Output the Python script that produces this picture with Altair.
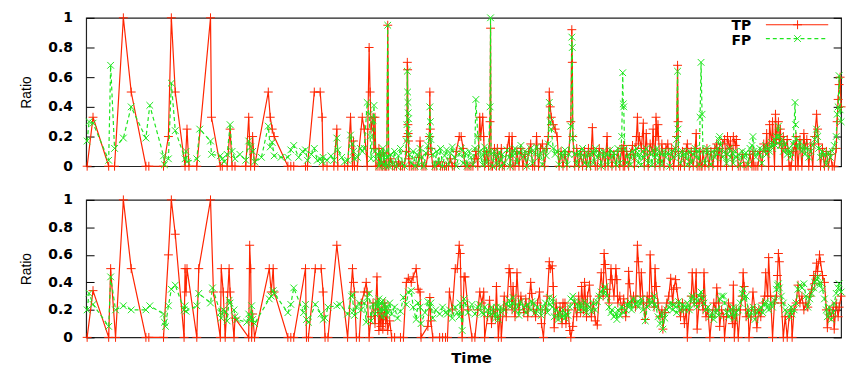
import altair as alt
import pandas as pd

N = None

# ---------------- top panel (time, TP ratio %, FP ratio %) ----------------
top_time = [
    87, 89, 93, 109, 111, 115, 124, 132, 147, 150,
    151, 165, 166, 170, 173, 177, 187, 188, 189, 191,
    199, 202, 213, 214, 223, 225, 227, 230, 233, 235,
    238, 243, 249, 252, 254, 256, 258, 265, 272, 274,
    276, 278, 285, 292, 295, 298, 303, 307, 310, 312,
    316, 319, 322, 325, 327, 328, 332, 336, 339, 342,
    343, 347, 350, 353, 356, 358, 359, 360, 363, 366,
    368, 370, 373, 375, 376, 377, 379, 380, 381, 382,
    384, 385, 386, 387, 388, 389, 390, 391, 392, 393,
    394, 395, 397, 399, 401, 403, 405, 407, 409, 411,
    413, 413.6, 414, 414.3, 414.6, 414.9, 415.2, 415.5, 416, 418,
    420, 422, 424, 426, 427, 429, 431, 433, 435, 436.5,
    437, 437.5, 438, 440, 442, 444, 446, 448, 450, 452,
    454, 456, 458, 460, 462, 464, 467, 469, 471, 473,
    475, 477, 479, 481, 483, 484, 486, 488, 489, 491,
    492, 493, 495, 497, 498.5, 499, 499.5, 501, 503, 505,
    506, 508, 510, 511, 513, 516, 518, 519, 521, 522,
    524, 526, 528, 530, 532, 534, 536, 538, 540, 542,
    544, 546, 548, 550, 552, 554, 556, 558, 559, 560,
    561, 563, 565, 567, 569, 571, 573, 575, 577, 579,
    581, 582, 582.5, 583, 585, 587, 589, 591, 593, 595,
    597, 599, 601, 603, 604, 606, 608, 610, 612, 614,
    616, 618, 619, 621, 623, 625, 627, 629, 631, 633,
    634, 634.5, 635, 636, 638, 640, 642, 644, 646, 648,
    649, 650, 651, 653, 655, 656, 658, 660, 662, 664,
    665, 667, 668, 669, 670, 672, 674, 676, 678, 680,
    682, 684, 686, 688, 689, 690, 690.5, 691, 693, 695,
    697, 699, 700, 702, 704, 706, 708, 709, 710, 712,
    713, 714, 715, 716, 718, 720, 722, 724, 726, 728,
    730, 731, 732, 733, 734, 736, 738, 740, 741, 743,
    744, 746, 747, 749, 750, 752, 754, 756, 758, 760,
    762, 764, 766, 767, 768, 770, 772, 774, 776, 778,
    780, 781, 783, 784, 786, 787, 789, 790, 791, 793,
    794, 795, 797, 798, 800, 802, 804, 805, 806, 808,
    810, 810.5, 811, 813, 815, 817, 819, 820, 822, 824,
    826, 828, 830, 832, 833, 834, 836, 838, 840, 842,
    844, 846, 848, 850, 852, 853, 854, 855, 856, 857,
]
top_tp = [
    0, N, 33, 0, N, 0, 100, 50, 0, 0,
    N, 0, N, 20, 100, 50, 0, N, 25, 0,
    0, N, 100, 33, 0, 0, N, 0, 25, 0,
    0, N, 0, 33, 0, 20, 0, N, 50, 33,
    25, 20, N, 0, 0, 0, N, N, 0, 0,
    N, 50, N, 50, 33, 0, 0, N, 0, 25,
    0, N, 0, 0, 33, 0, 17, 0, 0, N,
    33, 25, 0, 80, 50, 25, 33, 12, 33, 0,
    0, 12, 0, 8, 0, 0, 9, 0, 0, 0,
    95, 0, 5, 0, 0, 0, 3, 0, 0, 0,
    10, 20, 70, 65, 28, 22, 17, 5, 0, 0,
    0, 0, 0, 6, 17, 0, 0, 0, 8, 20,
    50, 25, 12, 0, 0, 0, 3, 0, 0, 0,
    0, 0, 5, 0, 0, 10, 20, 20, 12, 0,
    0, 0, 0, 0, 5, 10, 0, 33, 20, 33,
    20, 0, 10, 0, 30, 93, 0, 0, 12, 0,
    12, 0, 12, 0, 0, 12, 20, 0, 20, 0,
    0, 10, 0, 12, 0, 8, 0, 10, 15, 0,
    0, 20, 0, 12, 15, 0, 12, 20, 50, 40,
    33, 28, 25, 20, 0, 10, 0, 8, 0, 10,
    30, 92, 70, 20, 0, 12, 0, 8, 0, 10,
    0, 12, 0, 26, 10, 0, 0, 12, 0, 9,
    0, 20, 0, 10, 0, 8, 0, 10, 0, 12,
    10, 0, 14, 0, 10, 0, 8, 14, 0, 20,
    33, 15, 20, 12, 29, 0, 22, 0, 15, 10,
    25, 0, 33, 20, 28, 0, 15, 0, 12, 15,
    0, 12, 0, 10, 20, 68, 30, 0, 0, 10,
    0, 12, 15, 0, 10, 0, 12, 22, 0, 0,
    10, 0, 0, 10, 0, 12, 0, 10, 0, 12,
    15, 0, 10, 12, 0, 15, 18, 0, 20, 12,
    17, 0, 20, 14, 18, 0, 0, 8, 0, 0,
    0, 8, 0, 10, 0, 0, 0, 10, 0, 15,
    10, 22, 0, 28, 15, 30, 0, 35, 18, 30,
    15, 25, 0, 20, 12, 18, 0, 0, 0, 10,
    15, 0, 20, 0, 18, 0, 22, 12, 18, 0,
    15, 0, 20, 35, 25, 15, 0, 12, 0, 10,
    0, 8, 0, 0, 12, 30, 45, 55, 60, 40,
]
top_fp = [
    17, 30, 29, 4, 68, 12, 19, 40, 19, N,
    41, 7, 1, 5, 56, 24, 5, 10, 3, N,
    5, 25, 17, 8, 7, 5, 3, 8, 28, 10,
    5, 8, 4, 17, 13, 10, 3, 6, 27, 13,
    16, 7, 6, 6, 11, 14, 6, 10, 11, 4,
    8, 12, 4, 5, 3, 6, 4, 7, 4, 19,
    11, 6, 3, 4, 21, 15, 10, 5, 6, 12,
    10, 12, 43, 35, 20, 5, 31, 41, 10, 5,
    8, 0, 10, 2, 7, 12, 1, 9, 0, 6,
    95, 0, 8, 1, 10, 0, 7, 12, 2, 0,
    17, 28, 64, 50, 43, 36, 32, 22, 8, 2,
    10, 0, 8, 1, 12, 6, 0, 9, 14, 20,
    40, 30, 18, 8, 0, 10, 2, 12, 0, 7,
    11, 1, 9, 13, 6, 0, 8, 12, 2, 9,
    0, 10, 6, 1, 12, 45, 20, 10, 6, 1,
    9, 13, 2, 10, 40, 100, 8, 0, 10, 6,
    1, 9, 0, 8, 2, 11, 6, 0, 10, 7,
    12, 2, 9, 14, 6, 10, 0, 8, 12, 2,
    10, 13, 6, 9, 1, 11, 7, 15, 43, 30,
    25, 12, 8, 10, 1, 9, 6, 11, 1, 8,
    27, 87, 80, 19, 8, 1, 10, 6, 12, 2,
    9, 0, 8, 10, 2, 12, 6, 9, 0, 10,
    6, 8, 1, 11, 6, 9, 1, 12, 2, 20,
    63, 42, 40, 12, 2, 8, 1, 10, 6, 12,
    9, 2, 8, 1, 10, 6, 12, 2, 9, 1,
    11, 6, 8, 12, 2, 9, 1, 10, 6, 9,
    0, 10, 6, 12, 18, 64, 25, 8, 2, 10,
    6, 9, 1, 10, 2, 8, 12, 6, 10, 1,
    33, 70, 35, 10, 2, 12, 8, 1, 10, 6,
    9, 12, 18, 20, 14, 6, 10, 2, 8, 12,
    6, 9, 2, 10, 6, 8, 1, 10, 6, 9,
    1, 12, 14, 20, 10, 6, 9, 12, 2, 10,
    14, 8, 12, 10, 16, 12, 18, 14, 20, 27,
    20, 14, 18, 10, 15, 8, 12, 6, 9, 15,
    43, 28, 18, 12, 16, 10, 14, 8, 12, 6,
    10, 14, 18, 25, 20, 12, 6, 10, 8, 1,
    9, 6, 10, 14, 20, 35, 40, 61, 38, 30,
]

# ---------------- bottom panel (time, TP ratio %, FP ratio %) ----------------
bot_time = [
    87, 89, 93, 109, 111, 116, 124, 132, 147, 150,
    151, 165, 166, 167, 170, 173, 177, 186, 187, 188,
    189, 199, 201, 213, 215, 216, 223, 224, 226, 228,
    230, 232, 233, 237, 238, 240, 250, 252, 253, 254,
    255, 256, 258, 273, 275, 277, 278, 292, 295, 298,
    308, 310, 311, 313, 320, 326, 328, 330, 333, 342,
    345, 353, 357, 358, 359, 360, 362, 365, 367, 370,
    372, 373, 375, 377, 379, 381, 383, 384, 385, 386,
    387, 388, 389, 390, 391, 392, 393, 394, 396, 398,
    401, 404, 407, 410, 413, 415, 418, 420, 423, 425,
    427, 428, 432, 435, 437, 438, 440, 443, 447, 450,
    453, 455, 457, 460, 463, 465, 467, 468, 470, 472,
    473, 476, 480, 483, 486, 488, 490, 492, 493, 496,
    498, 500, 502, 504, 505, 507, 509, 510, 513, 515,
    518, 519, 521, 522, 524, 526, 528, 530, 533, 535,
    537, 540, 541, 543, 545, 547, 549, 551, 553, 555,
    557, 559, 560, 562, 563, 564, 566, 568, 570, 572,
    573, 575, 576, 578, 580, 581, 583, 585, 587, 589,
    591, 592, 594, 595, 597, 598, 600, 602, 604, 606,
    608, 610, 612, 614, 615, 616, 618, 620, 622, 623,
    625, 627, 628, 629, 631, 633, 635, 637, 639, 640,
    641, 643, 645, 647, 649, 650, 652, 653, 655, 657,
    659, 661, 662, 664, 666, 667, 668, 670, 672, 674,
    675, 677, 679, 681, 683, 685, 686, 688, 689, 691,
    693, 695, 697, 699, 700, 702, 704, 705, 707, 709,
    710, 712, 714, 716, 717, 719, 721, 723, 725, 727,
    729, 730, 732, 733, 735, 737, 738, 740, 742, 744,
    746, 747, 748, 750, 752, 754, 756, 757, 758, 760,
    762, 763, 765, 767, 769, 771, 773, 775, 777, 779,
    780, 782, 783, 785, 787, 789, 791, 792, 793, 794,
    796, 798, 800, 802, 804, 806, 807, 809, 811, 813,
    815, 817, 819, 821, 823, 825, 827, 829, 830, 832,
    833, 835, 836, 838, 840, 842, 843, 845, 847, 849,
    850, 852, 854, 855, 857,
]
bot_tp = [
    0, N, 34, 0, 50, 0, 100, 50, 0, 0,
    N, 0, N, N, 60, 100, 75, 0, 50, 33,
    50, 0, 50, 100, N, 33, 0, 50, 33, 0,
    N, 50, 33, 0, 14, N, N, 0, 67, 50,
    0, 17, 0, 50, 33, 50, 33, 0, 0, 0,
    N, 50, 0, 0, 50, 50, 33, 0, 0, 67,
    N, 0, N, 50, 40, 33, 0, 0, 25, 33,
    40, 33, 0, 15, 25, 10, 44, 20, 5, 18,
    8, 22, 6, 15, 25, 10, 20, 5, 12, 0,
    0, N, 0, 0, 40, 43, 40, 44, 50, 35,
    33, 0, N, 8, 29, 12, 0, N, 0, 0,
    0, 0, 33, 20, 50, 50, 67, 61, 0, 44,
    44, 20, 0, 0, 20, 33, 25, 33, 0, 15,
    27, 10, 20, 15, 37, 0, 20, 0, 30, 15,
    50, 47, 20, 37, 15, 47, 20, 30, 18, 28,
    15, 40, 32, 20, 15, 25, 33, 10, 0, 20,
    30, 55, 50, 52, 37, 7, 25, 15, 22, 10,
    25, 25, 10, 20, 5, 0, 8, 25, 15, 30,
    18, 37, 20, 40, 15, 30, 38, 15, 25, 12,
    9, 30, 47, 30, 61, 53, 35, 25, 50, 42,
    30, 50, 42, 25, 30, 20, 28, 15, 25, 48,
    39, 25, 30, 22, 67, 55, 30, 47, 25, 13,
    30, 25, 60, 30, 22, 50, 37, 25, 15, 20,
    6, 18, 25, 30, 43, 25, 35, 42, 36, 25,
    15, 25, 10, 20, 0, 20, 30, 47, 25, 47,
    6, 25, 30, 20, 47, 15, 20, 0, 15, 25,
    20, 36, 25, 8, 20, 15, 0, 15, 25, 20,
    10, 38, 0, 20, 0, 20, 30, 47, 37, 15,
    20, 0, 15, 33, 20, 7, 20, 15, 25, 30,
    47, 30, 58, 30, 0, 25, 30, 45, 61, 55,
    25, 0, 15, 0, 15, 20, 0, 20, 25, 38,
    25, 30, 20, 25, 22, 30, 35, 45, 39, 54,
    48, 60, 55, 45, 40, 20, 7, 20, 15, 22,
    6, 25, 15, 22, 30,
]
bot_fp = [
    20, 32, 24, 8, 44, 20, 23, 20, 20, N,
    23, 17, 11, 8, 23, 35, 38, 20, 23, 19,
    N, 23, 32, 25, 36, N, 18, 14, 20, 19,
    12, 27, 25, 20, 15, 13, 11, 17, 13, 15,
    23, 13, 10, 28, 30, 34, 32, 18, 24, 36,
    18, 24, 13, 11, 24, 17, 13, 14, 22, 23,
    24, 17, 30, 31, 19, 16, 22, 25, 20, 25,
    11, 29, 32, 12, 24, 17, 26, 22, 28, 18,
    25, 15, 27, 20, 24, 16, 22, 18, 25, 17,
    22, 14, 19, 29, 24, 33, 34, 22, 13, 25,
    22, 10, 18, 26, 22, 25, 14, 20, 17, 22,
    18, 17, 20, 14, 22, 18, 15, 25, 5, 28,
    25, 18, 24, 17, 22, 24, 18, 17, 22, 20,
    16, 22, 18, 14, 22, 13, 22, 18, 20, 24,
    27, 22, 25, 29, 20, 24, 16, 26, 22, 18,
    24, 20, 26, 25, 18, 22, 20, 16, 22, 25,
    18, 29, 24, 22, 28, 15, 20, 13, 18, 15,
    20, 14, 17, 16, 22, 28, 30, 26, 24, 20,
    25, 22, 20, 26, 18, 24, 22, 19, 25, 20,
    26, 30, 33, 35, 32, 37, 30, 22, 18, 20,
    15, 17, 13, 20, 16, 22, 18, 20, 24, 22,
    26, 20, 28, 24, 26, 22, 25, 28, 20, 12,
    22, 27, 24, 26, 30, 24, 22, 15, 10, 18,
    6, 14, 20, 22, 25, 20, 24, 22, 18, 26,
    20, 24, 20, 22, 25, 20, 28, 30, 24, 28,
    22, 30, 33, 28, 25, 20, 22, 15, 18, 13,
    18, 20, 16, 28, 30, 30, 25, 18, 15, 20,
    17, 22, 14, 18, 20, 25, 32, 35, 28, 30,
    20, 15, 18, 22, 13, 18, 20, 22, 18, 24,
    26, 22, 20, 25, 22, 27, 35, 38, 39, 36,
    30, 25, 20, 18, 15, 22, 17, 20, 25, 35,
    38, 36, 39, 30, 22, 28, 32, 36, 40, 42,
    44, 38, 40, 35, 28, 20, 15, 22, 13, 18,
    25, 32, 36, 39, 33,
]

y_ticks = [0, 0.2, 0.4, 0.6, 0.8, 1]
series_names = ["TP", "FP"]
time_domain = [86, 857]

assert len(top_time) == len(top_tp) == len(top_fp)
assert len(bot_time) == len(bot_tp) == len(bot_fp)

RED = "#ff2400"
GREEN = "#1ee61e"
PLUS = "M-1,0L1,0M0,-1L0,1"
XMARK = "M-0.75,-0.75L0.75,0.75M-0.75,0.75L0.75,-0.75"
PLOT_W = 763


def frame(times, vals):
    rows = [(t, v / 100.0) for t, v in zip(times, vals) if v is not None]
    return pd.DataFrame(rows, columns=["time", "ratio"])


def panel(times, tp, fp, height, legend, xtitle):
    if xtitle:
        x_axis = alt.Axis(title="Time", labels=False, ticks=False, domain=False,
                          grid=False, titlePadding=13, titleX=389,
                          titleFont="DejaVu Sans", titleFontSize=15,
                          titleFontWeight="bold", titleColor="black")
    else:
        x_axis = None
    x = alt.X("time:Q", scale=alt.Scale(domain=time_domain, nice=False, zero=False),
              axis=x_axis)
    yscale = alt.Scale(domain=[0, 1], nice=False)
    left_axis = alt.Axis(title="Ratio", values=y_ticks, format="~g", ticks=False,
                         domain=False, grid=True, gridDash=[8, 2000], gridColor="black",
                         gridOpacity=1, gridWidth=1, labelPadding=14, labelFlush=False,
                         titlePadding=14)
    right_axis = alt.Axis(orient="right", title=None, values=y_ticks, labels=False,
                          ticks=False, domain=False, grid=True, gridDash=[8, 2000],
                          gridColor="black", gridOpacity=1, gridWidth=1,
                          minExtent=0, maxExtent=0, labelPadding=0)
    tp_df = frame(times, tp)
    fp_df = frame(times, fp)
    tp_line = alt.Chart(tp_df).mark_line(color=RED, strokeWidth=1.2).encode(
        x=x, y=alt.Y("ratio:Q", scale=yscale, axis=left_axis))
    tp_pts = alt.Chart(tp_df).mark_point(shape=PLUS, size=81, color=RED, strokeWidth=1,
                                         filled=False, opacity=1).encode(
        x=x, y=alt.Y("ratio:Q", scale=yscale, axis=None))
    fp_line = alt.Chart(fp_df).mark_line(color=GREEN, strokeWidth=1.2,
                                         strokeDash=[4, 3]).encode(
        x=x, y=alt.Y("ratio:Q", scale=yscale, axis=right_axis))
    fp_pts = alt.Chart(fp_df).mark_point(shape=XMARK, size=81, color=GREEN, strokeWidth=1,
                                         filled=False, opacity=1).encode(
        x=x, y=alt.Y("ratio:Q", scale=yscale, axis=None))
    layers = [tp_line, tp_pts, fp_line, fp_pts]
    if legend:
        for name, color, shape, dash, ty, ly in (
            (series_names[0], RED, PLUS, [1, 0], 12, 7),
            (series_names[1], GREEN, XMARK, [4, 3], 27, 21),
        ):
            ldf = pd.DataFrame({"label": [name]})
            layers.append(alt.Chart(ldf).mark_text(
                align="right", baseline="alphabetic", font="DejaVu Sans", fontSize=14,
                fontWeight="bold", color="black").encode(
                text="label:N", x=alt.value(672), y=alt.value(ty)))
            layers.append(alt.Chart(ldf).mark_rule(
                color=color, strokeWidth=1.2, strokeDash=dash).encode(
                x=alt.value(687), x2=alt.value(750), y=alt.value(ly)))
            layers.append(alt.Chart(ldf).mark_point(
                shape=shape, size=81, color=color, strokeWidth=1, filled=False,
                opacity=1).encode(x=alt.value(719), y=alt.value(ly)))
    return alt.layer(*layers).resolve_axis(y="independent").properties(
        width=PLOT_W, height=height)


top = panel(top_time, top_tp, top_fp, 150, True, False)
bottom = panel(bot_time, bot_tp, bot_fp, 139, False, True)

chart = alt.vconcat(top, bottom, spacing=18).properties(
    padding={"left": 11, "top": 0, "right": 0, "bottom": -2}
).configure_view(
    stroke="#222222", strokeWidth=1.2
).configure_axis(
    labelFont="DejaVu Sans", labelFontSize=14, labelFontWeight="bold",
    labelColor="black", titleFont="Liberation Sans", titleFontSize=14,
    titleFontWeight="normal", titleColor="black"
)

chart.save("out.html", embed_options={"renderer": "svg", "actions": False})
